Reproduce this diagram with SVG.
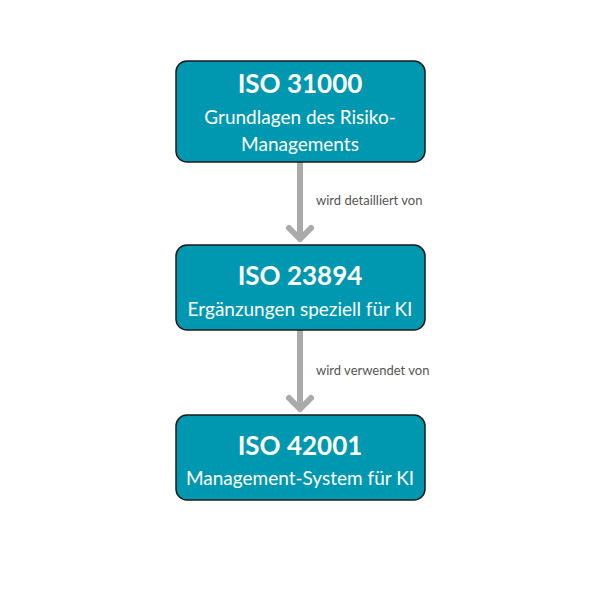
<svg xmlns="http://www.w3.org/2000/svg" width="600" height="600" viewBox="0 0 600 600">
<style>
.box{fill:#0098b0;stroke:#1a1a1a;stroke-width:1.5}
.t{font-family:Lato,"Liberation Sans",sans-serif;fill:#fff;text-anchor:middle;font-weight:bold;font-size:26px}
.s{font-family:Lato,"Liberation Sans",sans-serif;fill:#fff;text-anchor:middle;font-size:19px}
.l{font-family:Lato,"Liberation Sans",sans-serif;fill:#555;font-size:13px}
.c{stroke:#aaa;stroke-width:6;fill:none;stroke-linecap:round;stroke-linejoin:round}
</style>
<rect width="600" height="600" fill="#fff"/>
<g id="connectors">
<path class="c" d="M300 163V239M289 228L300 239L311 228"/>
<text class="l" x="316" y="205">wird detailliert von</text>
<path class="c" d="M300 331V409M289 398L300 409L311 398"/>
<text class="l" x="316" y="375">wird verwendet von</text>
</g>
<g id="n1"><rect class="box" x="176" y="61" width="249" height="101" rx="11"/>
<text class="t" x="300" y="93">ISO 31000</text>
<text class="s" x="300" y="124">Grundlagen des Risiko-</text>
<text class="s" x="300" y="151">Managements</text></g>
<g id="n2"><rect class="box" x="176" y="245" width="249" height="85" rx="11"/>
<text class="t" x="300" y="285">ISO 23894</text>
<text class="s" x="300" y="316">Ergänzungen speziell für KI</text></g>
<g id="n3"><rect class="box" x="176" y="415" width="249" height="85" rx="11"/>
<text class="t" x="300" y="455">ISO 42001</text>
<text class="s" x="300" y="485">Management-System für KI</text></g>
</svg>
